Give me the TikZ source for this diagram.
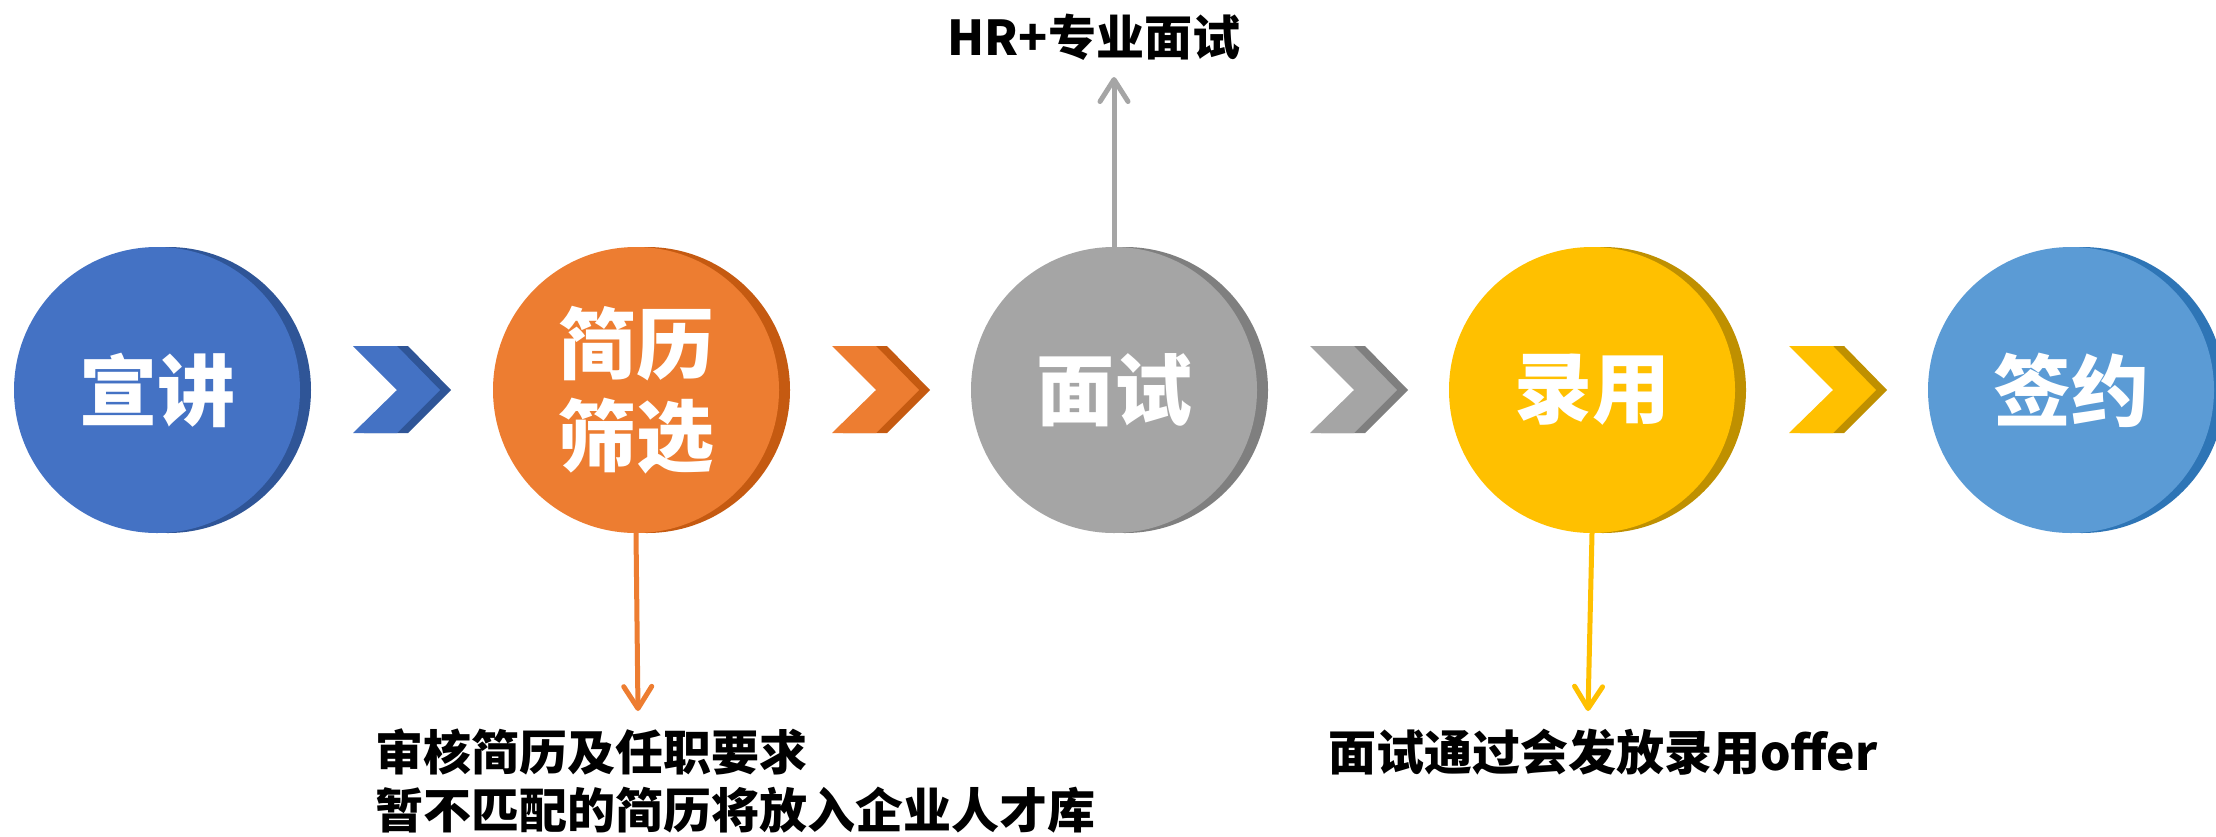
\documentclass[tikz,border=0pt]{standalone}
\usepackage{fontspec}
\newfontfamily\cjk{Noto Sans CJK SC}
\usetikzlibrary{shadows,arrows.meta}
\definecolor{cblue}{HTML}{4472C4}\definecolor{cbluedk}{HTML}{2F5597}
\definecolor{corange}{HTML}{ED7D31}\definecolor{corangedk}{HTML}{C55A11}
\definecolor{cgray}{HTML}{A5A5A5}\definecolor{cgraydk}{HTML}{7F7F7F}
\definecolor{cgold}{HTML}{FFC000}\definecolor{cgolddk}{HTML}{BF9000}
\definecolor{clblue}{HTML}{5B9BD5}\definecolor{clbluedk}{HTML}{2E75B6}
\tikzset{
  disk/.style 2 args={circle, inner sep=0pt, minimum size=286pt, fill=#1,
    copy shadow={shadow xshift=11pt, shadow yshift=0pt, fill=#2, draw=none},
    text=white, font=\cjk\bfseries\fontsize{78}{92}\selectfont, align=center},
  pics/chev/.style 2 args={code={
    \fill[#2] (11,-44) -- (55,-44) -- (98,0) -- (55,43) -- (11,43) -- (55,0) -- cycle;
    \fill[#1] (0,-44) -- (44,-44) -- (87,0) -- (44,43) -- (0,43) -- (44,0) -- cycle;
  }},
  note/.style={font=\cjk\bfseries\fontsize{48}{58}\selectfont, text=black, inner sep=0pt},
  pointer/.style={line width=5pt, line cap=round,
    -{Straight Barb[length=22pt,width=28pt,line cap=round,line join=round]}},
}
\begin{document}
\begin{tikzpicture}[x=1pt,y=-1pt]
\fill[white] (0,0) rectangle (2216,836);
\useasboundingbox (0,0) rectangle (2216,836);

\pic at (353,390) {chev={cblue}{cbluedk}};
\pic at (832,390) {chev={corange}{corangedk}};
\pic at (1310,390) {chev={cgray}{cgraydk}};
\pic at (1789,390) {chev={cgold}{cgolddk}};

\node[disk={cblue}{cbluedk}] (c1) at (157,390) {宣讲};
\node[disk={corange}{corangedk}] (c2) at (636,390) {简历\\筛选};
\node[disk={cgray}{cgraydk}] (c3) at (1114,390) {面试};
\node[disk={cgold}{cgolddk}] (c4) at (1592,390) {录用};
\node[disk={clblue}{clbluedk}] (c5) at (2071,390) {签约};

\coordinate (t2) at (638,711);
\coordinate (t3) at (1114,77);
\coordinate (t4) at (1588,711);

\draw[pointer, corange] (c2.south) -- (t2);
\draw[pointer, cgray] (c3.north) -- (t3);
\draw[pointer, cgold] (c4.south) -- (t4);

\node[note] (hr) at (1094,37) {HR+专业面试};
\node[note, anchor=west] (n1) at (375,752) {审核简历及任职要求};
\node[note, anchor=west] (n2) at (375,810) {暂不匹配的简历将放入企业人才库};
\node[note, anchor=west] (n3) at (1328,752) {面试通过会发放录用offer};
\end{tikzpicture}
\end{document}
